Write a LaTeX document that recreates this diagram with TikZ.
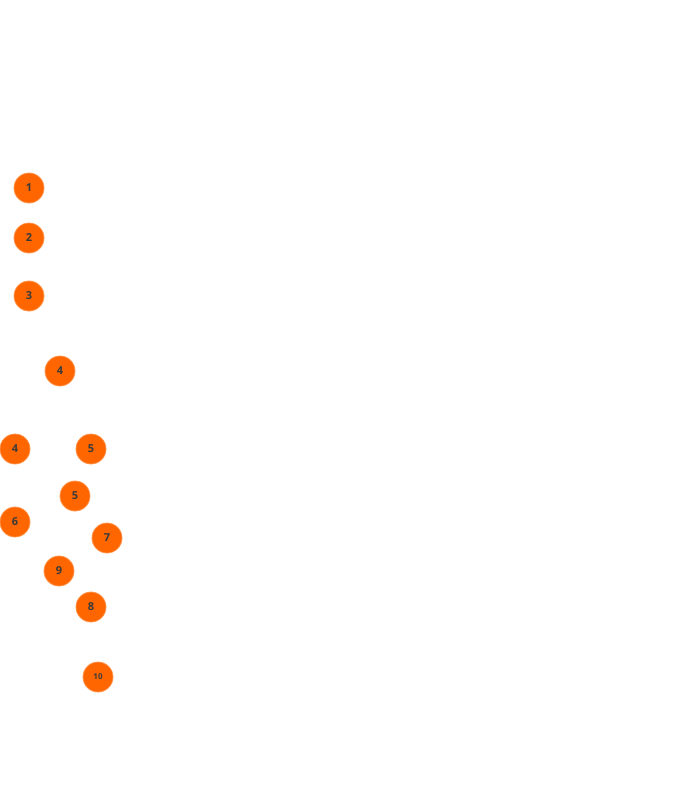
\documentclass[tikz,border=0pt]{standalone}
\usepackage{fontspec}
\setmainfont{Open Sans}
\definecolor{badge}{HTML}{FF6600}
\definecolor{numc}{HTML}{3A3A3A}
\begin{document}
\begin{tikzpicture}[x=1pt,y=-1pt,
  badgenode/.style={circle,fill=badge,draw=badge!70!white,line width=0.8pt,minimum size=30pt,inner sep=0pt,text=numc,font=\bfseries\fontsize{11}{11}\selectfont},
  smallbadge/.style={badgenode,font=\bfseries\fontsize{8}{8}\selectfont}]
\useasboundingbox (0,0) rectangle (699,800);
\node[badgenode] (b1) at (29,188) {1};
\node[badgenode] (b2) at (29,238) {2};
\node[badgenode] (b3) at (29,296) {3};
\node[badgenode] (b4a) at (60,371) {4};
\node[badgenode] (b4b) at (15,449) {4};
\node[badgenode] (b5a) at (91,449) {5};
\node[badgenode] (b5b) at (75,496) {5};
\node[badgenode] (b6) at (15,522) {6};
\node[badgenode] (b7) at (107,538) {7};
\node[badgenode] (b9) at (59,571) {9};
\node[badgenode] (b8) at (91,607) {8};
\node[smallbadge] (b10) at (98,677) {10};
\end{tikzpicture}
\end{document}
